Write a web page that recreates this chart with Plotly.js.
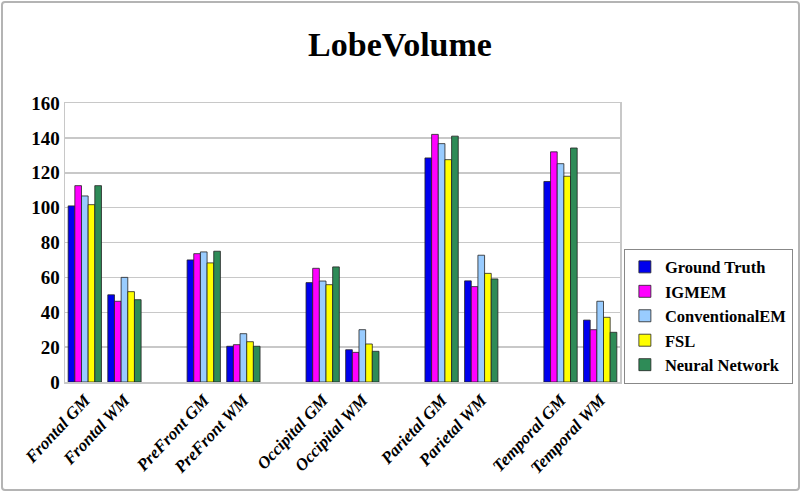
<!DOCTYPE html>
<html>
<head>
<meta charset="utf-8">
<script src="https://cdn.plot.ly/plotly-3.0.1.min.js"></script>
<style>
  html, body { margin: 0; padding: 0; background: #fff; }
  #wrap { position: relative; width: 800px; height: 491px; }
  #chart { width: 800px; height: 491px; }
  #frame { position: absolute; left: 1px; top: 1px; width: 795px; height: 486px;
           border: 2px solid #b4b4b4; border-radius: 4px; pointer-events: none; }
</style>
</head>
<body>
<div id="wrap"><div id="chart"></div><div id="frame"></div></div>
<script>
// Category slots (empty strings are the spacer slots between lobe pairs)
const categories = ["Frontal GM", "Frontal WM", "", "PreFront GM", "PreFront WM", "",
                    "Occipital GM", "Occipital WM", "", "Parietal GM", "Parietal WM", "",
                    "Temporal GM", "Temporal WM"];
const seriesNames = ["Ground Truth", "IGMEM", "ConventionalEM", "FSL", "Neural Network"];
const groundTruth   = [101, 50, null, 70, 20.5, null, 57, 18.5, null, 128.5, 58, null, 115, 35.5];
const igmem         = [112.6, 46.3, null, 73.6, 21.4, null, 65.2, 17, null, 142, 54.7, null, 132, 30];
const conventional  = [106.7, 60, null, 74.6, 27.7, null, 57.9, 30, null, 136.7, 72.7, null, 125.2, 46.3];
const fsl           = [101.7, 51.8, null, 68.3, 23.1, null, 55.8, 21.8, null, 127.5, 62.3, null, 118, 37.1];
const neuralNetwork = [112.6, 47.2, null, 75, 20.5, null, 66, 17.6, null, 141, 59.1, null, 134.2, 28.5];
const yTicks = [0, 20, 40, 60, 80, 100, 120, 140, 160];

const colors = ["#0000ee", "#ff00ff", "#99ccff", "#ffff00", "#2e8b57"];
const allSeries = [groundTruth, igmem, conventional, fsl, neuralNetwork];
const xIdx = categories.map((c, i) => i);
const tickIdx = xIdx.filter(i => categories[i] !== "");

const serif = "Liberation Serif";
const traces = allSeries.map((vals, k) => ({
  type: "bar",
  name: "<b>" + seriesNames[k] + "</b>",
  x: xIdx,
  y: vals,
  marker: { color: colors[k], line: { color: "#222", width: 0.8 } },
  hoverinfo: "y+name"
}));

const layout = {
  width: 800, height: 491,
  paper_bgcolor: "#fff", plot_bgcolor: "#fff",
  font: { family: serif },
  margin: { l: 65, r: 180, t: 103, b: 109, autoexpand: false },
  barmode: "group", bargap: 0.16, bargroupgap: 0,
  title: { text: "<b>LobeVolume</b>", x: 0.5, xref: "container", xanchor: "center",
           y: 0.91, yanchor: "middle", font: { family: serif, size: 34, color: "#000" } },
  xaxis: {
    range: [-0.5, categories.length - 0.5],
    tickvals: tickIdx,
    ticktext: tickIdx.map(i => "<b><i>" + categories[i] + "</i></b>"),
    tickangle: -47,
    tickfont: { family: serif, size: 17, color: "#000" },
    showgrid: false, zeroline: false,
    showline: true, linecolor: "#c8c8c8", linewidth: 1.5, mirror: true,
    ticks: "", fixedrange: true
  },
  yaxis: {
    range: [0, 160],
    tickvals: yTicks,
    ticktext: yTicks.map(v => "<b>" + v + "</b>"),
    tickfont: { family: serif, size: 19, color: "#000" },
    showgrid: true, gridcolor: "#c8c8c8", gridwidth: 1.5,
    zeroline: false, showline: true, linecolor: "#c8c8c8", linewidth: 1.5, mirror: true,
    ticks: "", ticklen: 0, fixedrange: true
  },
  showlegend: true,
  legend: {
    x: 1.007, xanchor: "left", y: 0.478, yanchor: "top",
    bgcolor: "#fff", bordercolor: "#888", borderwidth: 1,
    font: { family: serif, size: 16.5, color: "#000" },
    itemwidth: 30, tracegroupgap: 0
  }
};

Plotly.newPlot("chart", traces, layout, { displayModeBar: false, staticPlot: true });
</script>
</body>
</html>
